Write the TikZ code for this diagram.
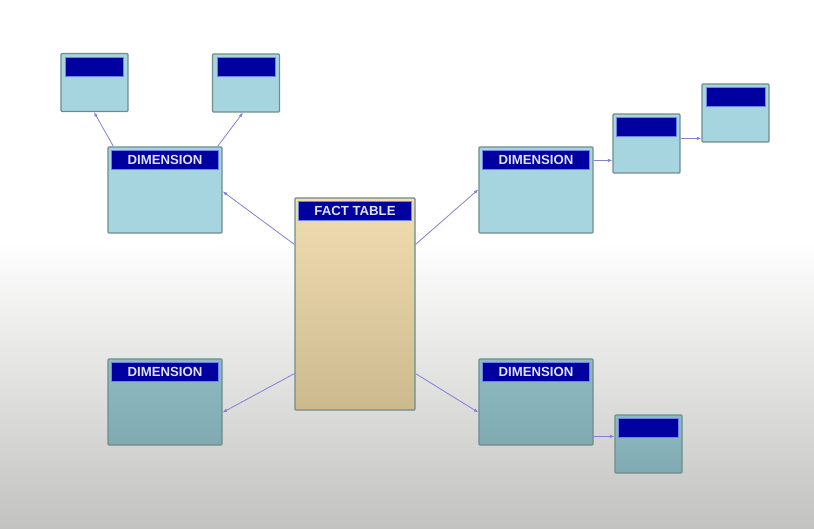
\documentclass[tikz,border=0pt]{standalone}
\usepackage{fontspec}
\setmainfont{Liberation Sans}
\definecolor{dimblue}{RGB}{166,213,223}
\definecolor{dimgray}{RGB}{142,187,194}
\definecolor{dimdark}{RGB}{128,170,176}
\definecolor{hdrnavy}{RGB}{0,0,160}
\definecolor{hdredge}{RGB}{110,130,235}
\definecolor{hdrtext}{RGB}{225,225,250}
\definecolor{boxedge}{RGB}{112,140,140}
\definecolor{facttop}{RGB}{241,221,176}
\definecolor{factbot}{RGB}{204,186,142}
\definecolor{linkblue}{RGB}{130,128,215}
\definecolor{bggray}{RGB}{194,194,192}
\usetikzlibrary{shapes,arrows.meta,positioning,calc}

\begin{document}
\begin{tikzpicture}[x=1pt, y=-1pt,
    every node/.style={font=\bfseries\fontsize{13.2}{14}\selectfont, text=hdrtext},
    tbl/.style={draw=boxedge, line width=1.2pt, fill=dimblue, rounded corners=1pt, inner sep=0pt},
    lowtbl/.style={tbl, top color=dimgray, bottom color=dimdark},
    dimbox/.style={minimum width=114pt, minimum height=86pt},
    subbox/.style={minimum width=67pt, minimum height=58pt},
    hdr/.style={draw=hdredge, line width=0.6pt, fill=hdrnavy, inner sep=0pt, minimum height=19pt},
    link/.style={draw=linkblue, line width=0.8pt, -{Latex[length=4.5pt, width=3.5pt]}}]

    % Background
    \useasboundingbox (0,0) rectangle (814,529);
    \fill[white] (0,0) rectangle (814,240);
    \shade[top color=white, bottom color=bggray] (0,240) rectangle (814,529);

    % Fact table
    \node[tbl, minimum width=120pt, minimum height=212pt, top color=facttop, bottom color=factbot] (fact) at (355,304) {};
    \node[hdr, minimum width=113pt, below=4pt of fact.north] (facthdr) {FACT TABLE};

    % Dimensions
    \node[tbl, dimbox] (dimTL) at (165,190) {};
    \node[hdr, minimum width=107pt, below=4pt of dimTL.north] (dimTLhdr) {DIMENSION};
    \node[tbl, dimbox] (dimTR) at (536,190) {};
    \node[hdr, minimum width=107pt, below=4pt of dimTR.north] (dimTRhdr) {DIMENSION};
    \node[lowtbl, dimbox] (dimBL) at (165,402) {};
    \node[hdr, minimum width=107pt, below=4pt of dimBL.north] (dimBLhdr) {DIMENSION};
    \node[lowtbl, dimbox] (dimBR) at (536,402) {};
    \node[hdr, minimum width=107pt, below=4pt of dimBR.north] (dimBRhdr) {DIMENSION};

    % Sub tables
    \node[tbl, subbox] (subA) at (94.5,82.5) {};
    \node[hdr, minimum width=58pt, below=4pt of subA.north] (subAhdr) {};
    \node[tbl, subbox] (subB) at (246,83) {};
    \node[hdr, minimum width=58pt, below=4pt of subB.north] (subBhdr) {};
    \node[tbl, subbox, minimum height=59pt] (subC) at (646.5,143.5) {};
    \node[hdr, minimum width=60pt, below=4pt of subC.north] (subChdr) {};
    \node[tbl, subbox] (subD) at (735.5,113) {};
    \node[hdr, minimum width=59pt, below=4pt of subD.north] (subDhdr) {};
    \node[lowtbl, subbox] (subE) at (648.5,444) {};
    \node[hdr, minimum width=60pt, below=4pt of subE.north] (subEhdr) {};

    % Links
    \draw[link] ([yshift=-47pt]fact.north west) -- ([yshift=-45pt]dimTL.north east);
    \draw[link] ([yshift=-47pt]fact.north east) -- ([yshift=-43pt]dimTR.north west);
    \draw[link] ([yshift=37pt]fact.south west) -- ([yshift=-54pt]dimBL.north east);
    \draw[link] ([yshift=37pt]fact.south east) -- ([yshift=-54pt]dimBR.north west);
    \draw[link] ([xshift=6pt]dimTL.north west) -- ([xshift=-0.5pt]subA.south);
    \draw[link] ([xshift=-5pt]dimTL.north east) -- ([xshift=-3pt]subB.south);
    \draw[link] ([yshift=-14pt]dimTR.north east) -- ([yshift=-47pt]subC.north west);
    \draw[link] ([yshift=-25pt]subC.north east) -- ([yshift=-55pt]subD.north west);
    \draw[link] ([yshift=-78pt]dimBR.north east) -- ([yshift=-22pt]subE.north west);
\end{tikzpicture}
\end{document}
